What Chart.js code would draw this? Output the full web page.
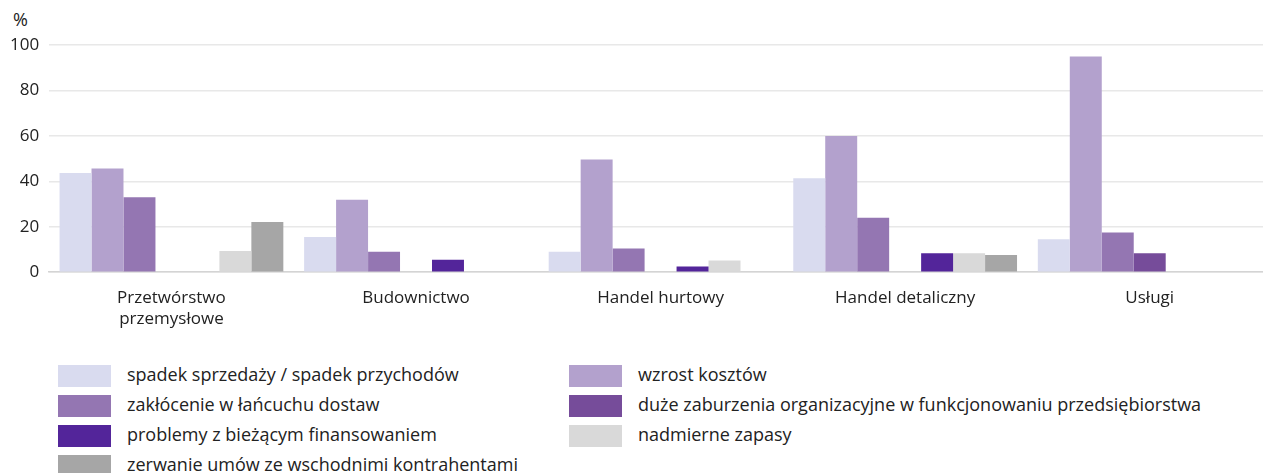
<!DOCTYPE html>
<html>
<head>
<meta charset="utf-8">
<script src="https://cdn.jsdelivr.net/npm/chart.js@4"></script>
<style>
    body { margin: 0; background: #fff; font-family: "Open Sans", sans-serif; color: #222; }
    .wrap { position: relative; width: 1263px; height: 473px; overflow: hidden; }
    .chart-box { position: absolute; left: 0; top: 0; width: 1272px; height: 337px; }
    .unit { position: absolute; left: 13px; top: 7px; font-size: 18px; }
    .legend { position: absolute; top: 365px; left: 0; }
    .legend .item { position: absolute; white-space: nowrap; font-size: 18px; height: 22px; line-height: 22px; }
    .legend .box { position: absolute; left: 0; top: 0; width: 53px; height: 22px; }
    .legend .label { position: absolute; top: -2px; }
</style>
</head>
<body>
<div class="wrap">
    <div class="unit">%</div>
    <div class="chart-box"><canvas id="chart"></canvas></div>
    <div class="legend"></div>
</div>
<script>
const categories = [
    ["Przetwórstwo", "przemysłowe"],
    "Budownictwo",
    "Handel hurtowy",
    "Handel detaliczny",
    "Usługi",
];

const seriesNames = [
    "spadek sprzedaży / spadek przychodów",
    "wzrost kosztów",
    "zakłócenie w łańcuchu dostaw",
    "duże zaburzenia organizacyjne w funkcjonowaniu przedsiębiorstwa",
    "problemy z bieżącym finansowaniem",
    "nadmierne zapasy",
    "zerwanie umów ze wschodnimi kontrahentami",
];

const spadekSprzedazy = [43.7, 15.5, 9.0, 41.3, 14.5];
const wzrostKosztow = [45.6, 31.9, 49.6, 59.9, 94.9];
const zaklocenieDostaw = [33.0, 9.0, 10.4, 24.0, 17.5];
const duzeZaburzenia = [0, 0, 0, 0, 8.3];
const problemyFinansowanie = [0, 5.5, 2.5, 8.3, 0];
const nadmierneZapasy = [9.3, 0, 5.2, 8.3, 0];
const zerwanieUmow = [22.1, 0, 0, 7.6, 0];

const yTicks = [0, 20, 40, 60, 80, 100];

const colors = ["#d9dbef", "#b3a1cd", "#9476b2", "#764c9a", "#53259a", "#d9d9d9", "#a6a6a6"];

const seriesValues = [
    spadekSprzedazy,
    wzrostKosztow,
    zaklocenieDostaw,
    duzeZaburzenia,
    problemyFinansowanie,
    nadmierneZapasy,
    zerwanieUmow,
];

// legend: two columns, filled row by row
const legendEl = document.querySelector(".legend");
seriesNames.forEach((name, i) => {
    const col = i % 2;
    const row = Math.floor(i / 2);
    const item = document.createElement("div");
    item.className = "item";
    item.style.left = (col === 0 ? 58 : 569) + "px";
    item.style.top = row * 30 + "px";
    item.innerHTML = `<span class="box" style="background:${colors[i]}"></span><span class="label" style="left:69px">${name}</span>`;
    legendEl.appendChild(item);
});

const fontFamily = "'Open Sans', sans-serif";

new Chart(document.querySelector("#chart"), {
    type: "bar",
    data: {
        labels: categories,
        datasets: seriesValues.map((values, i) => ({
            label: seriesNames[i],
            data: values,
            backgroundColor: colors[i],
            borderWidth: 0,
        })),
    },
    options: {
        responsive: true,
        maintainAspectRatio: false,
        animation: false,
        categoryPercentage: 0.915,
        barPercentage: 1,
        layout: { padding: { top: 45, right: 0, left: 0, bottom: 0 } },
        plugins: {
            legend: { display: false },
            tooltip: { enabled: false },
        },
        scales: {
            x: {
                grid: { display: false },
                border: { color: "#d4d4d4", width: 1.5 },
                ticks: {
                    color: "#222",
                    font: { family: fontFamily, size: 17 },
                    padding: 8,
                    maxRotation: 0,
                },
            },
            y: {
                min: 0,
                max: 100,
                afterBuildTicks: (axis) => {
                    axis.ticks = yTicks.map((v) => ({ value: v }));
                },
                grid: { color: "#e8e8e8", lineWidth: 1.5, drawTicks: false },
                border: { display: false },
                ticks: {
                    color: "#222",
                    font: { family: fontFamily, size: 17 },
                    padding: 10,
                },
            },
        },
    },
});
</script>
</body>
</html>
